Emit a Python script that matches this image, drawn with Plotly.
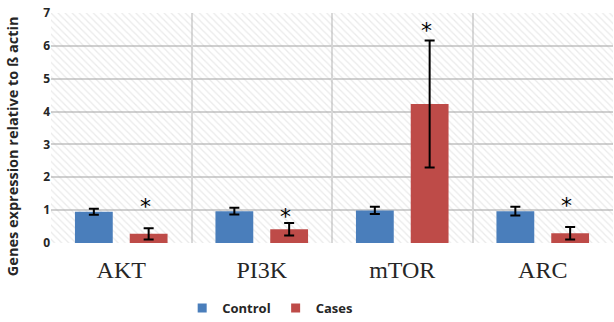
import plotly.graph_objects as go

categories = ["AKT", "PI3K", "mTOR", "ARC"]
control = [0.95, 0.97, 0.99, 0.97]
control_err = [0.09, 0.10, 0.11, 0.13]
cases = [0.28, 0.42, 4.23, 0.30]
cases_err = [0.17, 0.19, 1.93, 0.19]
star_y = [1.26, 0.97, 6.62, 1.28]
y_ticks = [0, 1, 2, 3, 4, 5, 6, 7]

BLUE = "#4A7EBB"
RED = "#BE4B48"

fig = go.Figure()

# hatched plot background (decorative, on hidden numeric base axis)
fig.add_trace(go.Bar(
    x=[0.5], y=[7], width=[1], xaxis="x", yaxis="y",
    marker=dict(color="rgba(0,0,0,0)", line=dict(width=0),
                pattern=dict(shape="\\", size=5, solidity=0.25,
                             fgcolor="rgba(170,170,170,0.5)",
                             bgcolor="rgba(0,0,0,0)")),
    showlegend=False, hoverinfo="skip",
))

fig.add_trace(go.Bar(
    name="Control", x=categories, y=control, xaxis="x2", yaxis="y",
    marker=dict(color=BLUE, line=dict(width=0)), showlegend=False,
    error_y=dict(type="data", array=control_err, color="black", thickness=2, width=5),
))
fig.add_trace(go.Bar(
    name="Cases", x=categories, y=cases, xaxis="x2", yaxis="y",
    marker=dict(color=RED, line=dict(width=0)), showlegend=False,
    error_y=dict(type="data", array=cases_err, color="black", thickness=2, width=5),
))
# legend entries with square swatches
for name, col in [("Control", BLUE), ("Cases", RED)]:
    fig.add_trace(go.Scatter(
        x=[None], y=[None], mode="markers", name=name, xaxis="x2", yaxis="y",
        marker=dict(symbol="square", size=9, color=col),
    ))

for c, sy in zip(categories, star_y):
    fig.add_annotation(x=c, y=sy, xref="x2", yref="y", text="*", showarrow=False,
                       xshift=24, yshift=-5,
                       font=dict(family="DejaVu Sans", size=22, color="black"))

fig.add_annotation(x=-0.068, y=0.42, xref="paper", yref="paper",
                   text="Genes expression relative to ß actin", textangle=-90,
                   showarrow=False, xanchor="center", yanchor="middle",
                   font=dict(family="Open Sans", size=14.5, color="#262626", weight="bold"))

fig.update_layout(
    width=614, height=322,
    margin=dict(l=51, r=1, t=13, b=79, autoexpand=False),
    paper_bgcolor="white", plot_bgcolor="white",
    barmode="group", bargap=0.22, bargroupgap=0.31,
    xaxis=dict(range=[0, 1], visible=False, fixedrange=True, automargin=False),
    xaxis2=dict(overlaying="x", side="bottom", anchor="y", automargin=False,
                tickson="boundaries", showgrid=True, gridcolor="#D9D9D9", gridwidth=1.5,
                ticks="", ticklabelstandoff=10,
                tickfont=dict(family="Liberation Serif", size=24, color="#262626"),
                showline=False, zeroline=False),
    yaxis=dict(range=[0, 7], tickvals=y_ticks, showgrid=True, gridcolor="#D0D0D0",
               gridwidth=2, zeroline=False, showline=False, automargin=False,
               tickfont=dict(family="Open Sans", size=12, color="#262626", weight="bold")),
    legend=dict(orientation="h", x=0.39, y=-0.283, xanchor="center", yanchor="middle",
                font=dict(family="Open Sans", size=13, color="#262626", weight="bold"),
                traceorder="normal", itemwidth=30),
    showlegend=True,
)

fig.write_html("out.html", config={"displayModeBar": False},
               post_script="document.body.style.margin='0';")
